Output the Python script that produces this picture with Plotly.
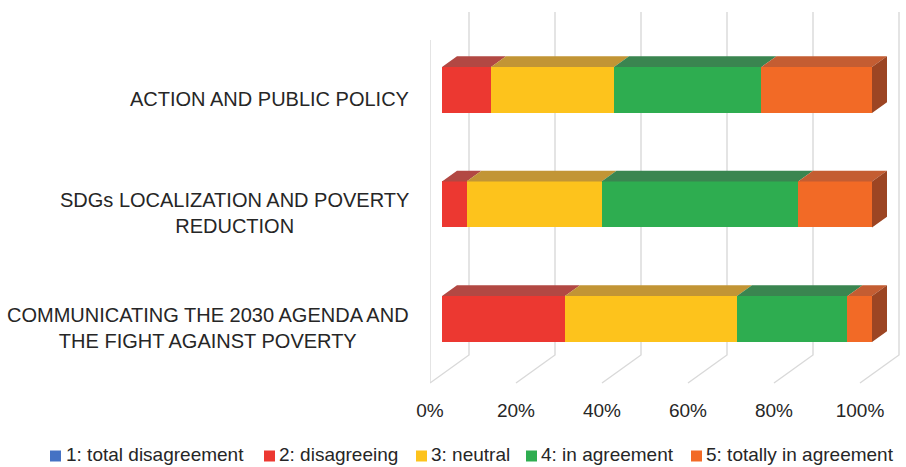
import plotly.graph_objects as go

# ---- data -------------------------------------------------------------
categories = [
    "COMMUNICATING THE 2030 AGENDA AND<br>THE FIGHT AGAINST POVERTY",
    "SDGs LOCALIZATION AND POVERTY<br>REDUCTION",
    "ACTION AND PUBLIC POLICY",
]
levels = ["1: total disagreement", "2: disagreeing", "3: neutral",
          "4: in agreement", "5: totally in agreement"]
total_disagreement = [0.0, 0.0, 0.0]
disagreeing = [28.6, 5.7, 11.4]
neutral = [40.0, 31.4, 28.6]
in_agreement = [25.7, 45.7, 34.3]
totally_in_agreement = [5.7, 17.2, 25.7]
x_ticks = [0, 20, 40, 60, 80, 100]
x_tick_labels = ["0%", "20%", "40%", "60%", "80%", "100%"]

series = [total_disagreement, disagreeing, neutral, in_agreement, totally_in_agreement]
front_colors = ["#4472C4", "#EC3831", "#FDC31C", "#2EAD50", "#F26A26"]
top_colors = ["#36599A", "#B24843", "#C29535", "#3A8550", "#C45D32"]
side_color = "#9C4523"
grid_color = "#D9D9D9"
text_color = "#262626"
FONT = "Liberation Sans, Arial, sans-serif"

# ---- 3-D projection settings -------------------------------------------
W, H = 906, 467
M_L, M_R, M_T, M_B = 430, 0, 0, 70
PLOT_W, PLOT_H = W - M_L - M_R, H - M_T - M_B
PX_PER_PCT = 4.3          # horizontal pixels per percentage point
PX_PER_CAT = 114.5        # vertical pixels between categories
CAT0_PX = 327.6           # pixel row of the first category on the front plane
DEPTH_DX, DEPTH_DY = 39.0, 28.0   # full floor depth (right, up) in pixels
BAR_GAP = 12.0            # depth in front of the bars (px along x)
BAR_DEPTH = 15.0          # depth of the bars (px along x)
BAR_HEIGHT_PX = 46.0
FLOOR_PX, WALL_TOP_PX = 383.0, 40.0


def depth_offset(dx_px):
    """Shift in data units for a move of dx_px pixels into the depth."""
    return dx_px / PX_PER_PCT, dx_px * DEPTH_DY / DEPTH_DX / PX_PER_CAT


def px_to_cat(py):
    return (CAT0_PX - py) / PX_PER_CAT


x_range = [0, PLOT_W / PX_PER_PCT]
y_range = [px_to_cat(M_T + PLOT_H), px_to_cat(M_T)]

fig = go.Figure()

# ---- walls and floor gridlines -----------------------------------------
k_floor, k_top = px_to_cat(FLOOR_PX), px_to_cat(WALL_TOP_PX)
bdx, bdy = depth_offset(DEPTH_DX)
gx, gy = [0, 0, None], [k_floor, k_top, None]
for t in x_ticks:
    gx += [t, t + bdx, t + bdx, None]
    gy += [k_floor, k_floor + bdy, k_top + bdy, None]
fig.add_trace(go.Scatter(x=gx, y=gy, mode="lines", xaxis="x", yaxis="y",
                         line=dict(color=grid_color, width=1.4),
                         hoverinfo="skip", showlegend=False))

# ---- stacked bars: front faces -----------------------------------------
cat_pos = list(range(len(categories)))
half = BAR_HEIGHT_PX / PX_PER_CAT / 2
for name, vals, col in zip(levels, series, front_colors):
    fig.add_trace(go.Bar(
        y=cat_pos, x=vals, orientation="h", name=name,
        marker=dict(color=col, line=dict(width=0)),
        width=2 * half, xaxis="x2", yaxis="y2", showlegend=False,
        hovertemplate="%{x:.1f}%<extra>" + name + "</extra>"))

# ---- stacked bars: top faces and right-hand side -----------------------
tdx, tdy = depth_offset(BAR_DEPTH)
cum = [0.0] * len(categories)
for vals, col in zip(series, top_colors):
    px_, py_ = [], []
    for k, v in enumerate(vals):
        a, b = cum[k], cum[k] + v
        if v > 0:
            yt = k + half
            px_ += [a, b, b + tdx, a + tdx, a, None]
            py_ += [yt, yt, yt + tdy, yt + tdy, yt, None]
        cum[k] = b
    if px_:
        fig.add_trace(go.Scatter(x=px_, y=py_, fill="toself", fillcolor=col,
                                 mode="lines", line=dict(width=0),
                                 xaxis="x2", yaxis="y2",
                                 hoverinfo="skip", showlegend=False))

sx, sy = [], []
for k, end in enumerate(cum):
    sx += [end, end, end + tdx, end + tdx, end, None]
    sy += [k - half, k + half, k + half + tdy, k - half + tdy, k - half, None]
fig.add_trace(go.Scatter(x=sx, y=sy, fill="toself", fillcolor=side_color,
                         mode="lines", line=dict(width=0),
                         xaxis="x2", yaxis="y2",
                         hoverinfo="skip", showlegend=False))

# ---- category labels ----------------------------------------------------
annotations = []
for k, cat in enumerate(categories):
    annotations.append(dict(
        x=0, xref="paper", y=k, yref="y", xanchor="right", yanchor="middle",
        xshift=-19, text=cat, showarrow=False, align="center",
        font=dict(family=FONT, size=20, color=text_color)))

# ---- legend -------------------------------------------------------------
legend_square_px = [50, 264, 416, 526, 691]
legend_text_px = [65, 278, 430, 540, 705]
LEG_Y_PX, SQ = 456.0, 11


def paper_x(px):
    return (px - M_L) / PLOT_W


def paper_y(py):
    return (M_T + PLOT_H - py) / PLOT_H


shapes = []
for name, col, sq, tx in zip(levels, front_colors, legend_square_px, legend_text_px):
    shapes.append(dict(type="rect", xref="paper", yref="paper",
                       x0=paper_x(sq), x1=paper_x(sq + SQ),
                       y0=paper_y(LEG_Y_PX + SQ / 2), y1=paper_y(LEG_Y_PX - SQ / 2),
                       fillcolor=col, line=dict(width=0)))
    annotations.append(dict(
        x=paper_x(tx - 1), xref="paper", y=paper_y(LEG_Y_PX - 1), yref="paper",
        xanchor="left", yanchor="middle", text=name, showarrow=False,
        font=dict(family=FONT, size=19, color=text_color)))

fig.update_layout(
    width=W, height=H,
    margin=dict(l=M_L, r=M_R, t=M_T, b=M_B, pad=0),
    paper_bgcolor="white", plot_bgcolor="rgba(0,0,0,0)",
    barmode="stack", showlegend=False,
    font=dict(family=FONT, color=text_color),
    xaxis=dict(range=x_range, tickmode="array", tickvals=x_ticks,
               ticktext=x_tick_labels,
               showgrid=False, zeroline=False, showline=False, ticks="",
               tickfont=dict(size=19, color=text_color)),
    yaxis=dict(range=y_range, visible=False),
    xaxis2=dict(range=[x_range[0] - depth_offset(BAR_GAP)[0],
                       x_range[1] - depth_offset(BAR_GAP)[0]],
                overlaying="x", visible=False),
    yaxis2=dict(range=[y_range[0] - depth_offset(BAR_GAP)[1],
                       y_range[1] - depth_offset(BAR_GAP)[1]],
                overlaying="y", visible=False),
    annotations=annotations, shapes=shapes,
)

fig.write_html("out.html")
